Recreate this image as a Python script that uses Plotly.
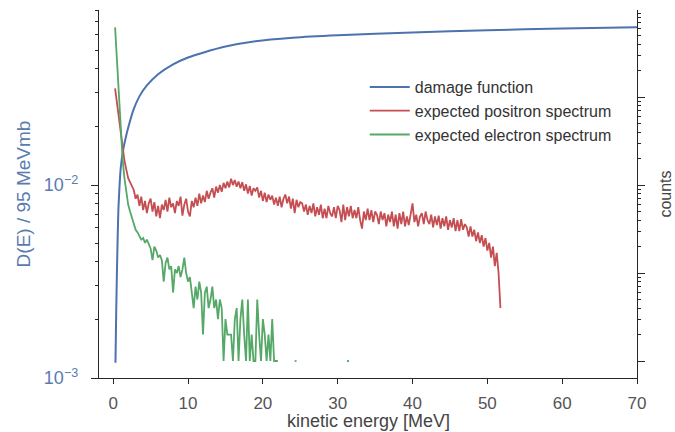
import numpy as np
import plotly.graph_objects as go

# damage function (left axis)
dmg_E = [0.3, 0.4, 0.5, 0.6, 0.7, 0.85, 1.0, 1.3, 1.7, 2.0, 2.7, 3.5, 4.5, 6.0, 8.0, 10.0, 12.0,
         15.0, 19.0, 24.0, 30.0, 40.0, 50.0, 60.0, 70.0]
dmg_D = [0.0012, 0.0022, 0.0036, 0.0055, 0.0076, 0.0100, 0.0122, 0.0150, 0.0178, 0.0198, 0.0245,
         0.0288, 0.0328, 0.0375, 0.0422, 0.0458, 0.0485, 0.0522, 0.0556, 0.0580, 0.0597, 0.0617,
         0.0634, 0.0647, 0.0658]

# expected positron spectrum (counts), bins of 0.25 MeV starting at 0.25 MeV
pos_counts = [
    1260, 880, 560, 380, 260, 190, 150, 120, 108, 96, 88, 70, 78, 58, 74, 52,
    66, 48, 62, 70, 50, 64, 44, 58, 42, 60, 52, 68, 50, 72, 56, 62,
    48, 66, 58, 74, 45, 60, 70, 50, 44, 66, 56, 72, 58, 80, 62, 76,
    64, 86, 70, 82, 92, 72, 96, 82, 100, 84, 106, 92, 110, 94, 118, 100,
    114, 96, 110, 92, 108, 86, 102, 80, 98, 76, 92, 86, 94, 72, 86, 66,
    82, 64, 78, 68, 76, 60, 72, 58, 74, 56, 70, 78, 62, 74, 54, 70,
    48, 68, 56, 64, 62, 50, 60, 46, 58, 48, 62, 44, 56, 46, 60, 42,
    54, 42, 58, 48, 44, 56, 42, 58, 52, 38, 60, 40, 56, 44, 58, 42,
    52, 42, 56, 40, 32, 50, 40, 54, 40, 52, 38, 50, 46, 36, 50, 40,
    48, 34, 46, 38, 50, 34, 46, 32, 48, 36, 50, 34, 44, 35, 48, 62,
    38, 46, 34, 44, 48, 36, 50, 40, 36, 46, 33, 44, 35, 45, 32, 42,
    34, 44, 31, 40, 33, 42, 30, 40, 30, 41, 31, 36, 33, 26, 34, 26,
    31, 23, 29, 22, 27, 20, 25, 18, 22, 15, 20, 12, 17, 10, 4,
]

# expected electron spectrum (counts), bins of 0.25 MeV; None = empty bin
ele_counts = [
    6200, 2600, 950, 420, 200, 120, 80, 60, 50, 42, 36, 31, 29, 26, 24, 25,
    22, 24, 21, 19, 14, 20, 18, 15, 16, 14, 8, 13, 15, 11, 12, 6,
    11, 10, 12, 9, 11, 15, 10, 8, 9, 6, 4, 7, 5, 8, 6, 2,
    6, 7, 4, 5, 7, 4, 5, 3, 5, 4, 1, 3, 2, 2, 2, 1,
    3, 4, 1, 3, 5, 2, 1, 5, 1, 2, 1, 1, 5, 2, 1, 3,
    2, 1, 2, 1, 3, 1, 1, 1, None, None, None, None, None, None, None, None,
    1, 1, None, None, None, None, None, None, None, None, None, None, None, None, None, None,
    None, None, None, None, None, None, None, None, None, None, None, None, 1, 1,
]

bin_w = 0.25
pos_E = [bin_w * (i + 1) for i in range(len(pos_counts))]
ele_E = [bin_w * (i + 1) for i in range(len(ele_counts))]

BLUE = "#4c72b0"
RED = "#c44e52"
GREEN = "#55a868"
AX = "#262626"
FONT = "Liberation Sans, Arial, sans-serif"

fig = go.Figure()
fig.add_trace(go.Scatter(x=dmg_E, y=dmg_D, mode="lines", name="damage function",
                         line=dict(color=BLUE, width=2, shape="spline", smoothing=0.5)))
fig.add_trace(go.Scatter(x=pos_E, y=pos_counts, mode="lines", name="expected positron spectrum",
                         line=dict(color=RED, width=1.8), yaxis="y2"))
fig.add_trace(go.Scatter(x=ele_E, y=ele_counts, mode="lines", name="expected electron spectrum",
                         line=dict(color=GREEN, width=1.8), yaxis="y2", connectgaps=False))

left_minor = [m * 10.0 ** e for e in (-3, -2) for m in range(2, 10)]
left_minor = [v for v in left_minor if v < 0.081]
right_minor = [m * 10.0 ** e for e in (0, 1, 2, 3) for m in range(2, 10)]

fig.update_layout(
    width=675, height=432,
    margin=dict(l=99, r=38, t=10, b=54),
    paper_bgcolor="white", plot_bgcolor="white",
    font=dict(family=FONT, size=16, color="#555555"),
    showlegend=True,
    legend=dict(x=0.494, y=0.837, xanchor="left", yanchor="top",
                bgcolor="rgba(0,0,0,0)", font=dict(size=16, color="#333333"),
                tracegroupgap=0, itemwidth=40),
    xaxis=dict(range=[-1.9, 70], tickvals=[0, 10, 20, 30, 40, 50, 60, 70], automargin=False,
               showline=True, linecolor=AX, linewidth=1.3, mirror=False,
               ticks="outside", ticklen=5, tickcolor=AX, tickwidth=1.2,
               showgrid=False, zeroline=False, ticklabelstandoff=4,
               tickfont=dict(size=17, color="#555555")),
    yaxis=dict(type="log", range=[-3, -1.093], automargin=False,
               tickvals=[1e-3, 1e-2], ticktext=["10<sup>−3</sup>", "10<sup>−2</sup>"],
               showline=True, linecolor=AX, linewidth=1.3,
               ticks="outside", ticklen=7, tickcolor=AX, tickwidth=1.2,
               minor=dict(tickvals=left_minor, ticks="outside", ticklen=3, tickcolor=AX, tickwidth=1),
               showgrid=False, zeroline=False, ticklabelstandoff=9,
               tickfont=dict(size=18, color="#5a7bb0"),
               title=dict(text="D(E) / 95 MeVmb", font=dict(size=19, color="#5a7bb0"), standoff=8)),
    yaxis2=dict(type="log", range=[-0.193, 3.99], overlaying="y", side="right", automargin=False,
                tickvals=[1, 10, 100, 1000], ticktext=["", "", "", ""],
                showline=True, linecolor=AX, linewidth=1.3,
                ticks="outside", ticklen=7, tickcolor=AX, tickwidth=1.2,
                minor=dict(tickvals=right_minor, ticks="outside", ticklen=3, tickcolor=AX, tickwidth=1),
                showgrid=False, zeroline=False,
                title=dict(text="counts", font=dict(size=16, color="#444444"), standoff=12)),
    annotations=[dict(text="kinetic energy [MeV]", xref="paper", yref="paper",
                      x=0.5, y=-0.117, xanchor="center", yanchor="middle", showarrow=False,
                      font=dict(size=18, color="#444444"))],
)

fig.write_html("out.html")
